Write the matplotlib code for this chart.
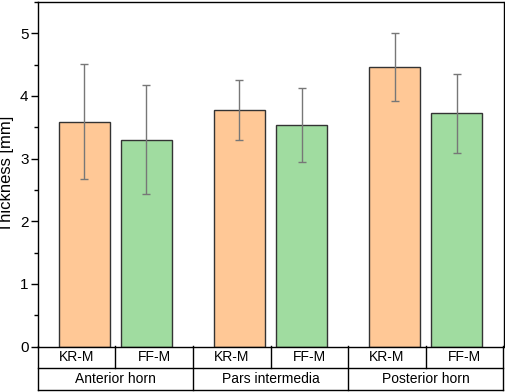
import numpy as np
import matplotlib
matplotlib.use("Agg")
import matplotlib.pyplot as plt
from matplotlib.ticker import MultipleLocator

plt.rcParams["font.family"] = ["Liberation Sans", "DejaVu Sans"]

regions = ["Anterior horn", "Pars intermedia", "Posterior horn"]
methods = ["KR-M", "FF-M"]
kr_mean = [3.59, 3.77, 4.47]
kr_lo = [2.68, 3.29, 3.92]
kr_hi = [4.51, 4.25, 5.01]
ff_mean = [3.30, 3.53, 3.72]
ff_lo = [2.43, 2.94, 3.09]
ff_hi = [4.17, 4.12, 4.35]

COLORS = {"KR-M": "#FFC896", "FF-M": "#A0DCA0"}
W, OFF = 0.329, 0.2

fig = plt.figure(figsize=(5.05, 3.92), dpi=100)
ax = fig.add_axes([37.5 / 505, 45.5 / 392, 466 / 505, 344.5 / 392])
x = np.arange(len(regions))

for sign, name, mean, lo, hi in [(-1, "KR-M", kr_mean, kr_lo, kr_hi),
                                 (1, "FF-M", ff_mean, ff_lo, ff_hi)]:
    mean = np.array(mean)
    err = [mean - np.array(lo), np.array(hi) - mean]
    ax.bar(x + sign * OFF, mean, W, color=COLORS[name], edgecolor="#333333", lw=1.0, zorder=2)
    ax.errorbar(x + sign * OFF, mean, yerr=err, fmt="none", ecolor="#777777",
                elinewidth=1.0, capsize=3, capthick=1.0, zorder=3)

ax.set_xlim(-0.5, 2.5)
ax.set_ylim(0, 5.5)
ax.yaxis.set_major_locator(MultipleLocator(1))
ax.yaxis.set_minor_locator(MultipleLocator(0.5))
ax.tick_params(axis="y", which="major", direction="out", length=5, width=1, labelsize=11, pad=1.5)
ax.tick_params(axis="y", which="minor", direction="out", length=3, width=1)
ax.tick_params(axis="x", bottom=False, labelbottom=False)
for s in ax.spines.values():
    s.set_linewidth(1.0)
ax.set_ylabel("Thickness [mm]", fontsize=12, labelpad=4)

# category table under the axis
tb = fig.add_axes([37.5 / 505, 2 / 392, 466 / 505, 44 / 392])
tb.set_xlim(-0.5, 2.5)
tb.set_ylim(0, 2)
tb.axis("off")
kw = dict(color="black", lw=1.0, clip_on=False)
tb.plot([-0.5, 2.5], [0, 0], **kw)
tb.plot([-0.5, 2.5], [1, 1], **kw)
for b in [-0.5, 0.5, 1.5, 2.5]:
    tb.plot([b, b], [0, 2], **kw)
for g in x:
    tb.plot([g, g], [1, 2], **kw)
    for j, name in enumerate(methods):
        tb.text(g - 0.25 + 0.5 * j, 1.5, name, ha="center", va="center", fontsize=10)
    tb.text(g, 0.5, regions[g], ha="center", va="center", fontsize=10)

fig.savefig("out.png", dpi=100)
